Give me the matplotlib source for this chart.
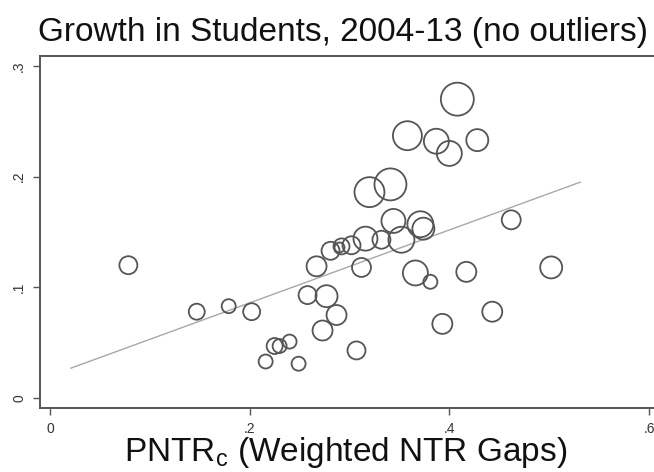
import matplotlib
matplotlib.use("Agg")
import matplotlib.pyplot as plt

plt.rcParams['font.family'] = ['Liberation Sans', 'DejaVu Sans']

# PNTR (x), growth in students (y), weight (bubble area)
pntr = [0.0785, 0.147, 0.179, 0.202, 0.216, 0.225, 0.230, 0.240, 0.249, 0.258,
        0.267, 0.273, 0.277, 0.287, 0.281, 0.292, 0.290, 0.302, 0.307, 0.312,
        0.316, 0.320, 0.341, 0.332, 0.344, 0.352, 0.358, 0.366, 0.371, 0.374,
        0.381, 0.387, 0.393, 0.400, 0.408, 0.417, 0.428, 0.443, 0.462, 0.502]
growth = [0.120, 0.078, 0.083, 0.078, 0.033, 0.047, 0.047, 0.051, 0.031, 0.093,
          0.119, 0.061, 0.092, 0.075, 0.133, 0.137, 0.136, 0.138, 0.043, 0.118,
          0.144, 0.186, 0.193, 0.143, 0.160, 0.143, 0.237, 0.113, 0.157, 0.153,
          0.105, 0.232, 0.067, 0.221, 0.270, 0.114, 0.233, 0.078, 0.161, 0.118]
weights = [81, 64, 49, 72, 49, 64, 49, 49, 49, 81,
           100, 100, 121, 100, 81, 64, 25, 81, 81, 90,
           144, 225, 256, 81, 144, 169, 210, 156, 169, 121,
           49, 156, 100, 156, 272, 100, 121, 100, 90, 121]

fit_x = [0.021, 0.531]
fit_y = [0.027, 0.195]

xticks = [0, 0.2, 0.4, 0.6]
xticklabels = ["0", ".2", ".4", ".6"]
yticks = [0, 0.1, 0.2, 0.3]
yticklabels = ["0", ".1", ".2", ".3"]

W, H = 654, 472
fig = plt.figure(figsize=(W / 100, H / 100), dpi=100)
L, R, B, T = 40, 656, 408, 56
ax = fig.add_axes([L / W, (H - B) / H, (R - L) / W, (B - T) / H])

ax.plot(fit_x, fit_y, color='#a8a8a8', lw=1.0, zorder=1)
ax.scatter(pntr, growth, s=[2.07 * w for w in weights], facecolors='none',
           edgecolors='#555555', linewidths=1.3, zorder=2)

ax.set_xlim(-0.010, 0.607)
ax.set_ylim(-0.009, 0.309)
ax.set_xticks(xticks)
ax.set_xticklabels(xticklabels)
ax.set_yticks(yticks)
ax.set_yticklabels(yticklabels, rotation=90, va='center')
ax.tick_params(direction='out', length=5, width=1, color='#555555',
               labelsize=10, labelcolor='#333333', pad=5)
for s in ax.spines.values():
    s.set_color('#555555')
    s.set_linewidth(1.4)

fig.text(343 / W, 1 - 33 / H, "Growth in Students, 2004-13 (no outliers)",
         ha='center', va='center', fontsize=24, color='#111111')
fig.text(346 / W, 1 - 452 / H, r"PNTR$_\mathregular{c}$ (Weighted NTR Gaps)",
         ha='center', va='center', fontsize=24, color='#111111')

fig.savefig("out.png", dpi=100)
